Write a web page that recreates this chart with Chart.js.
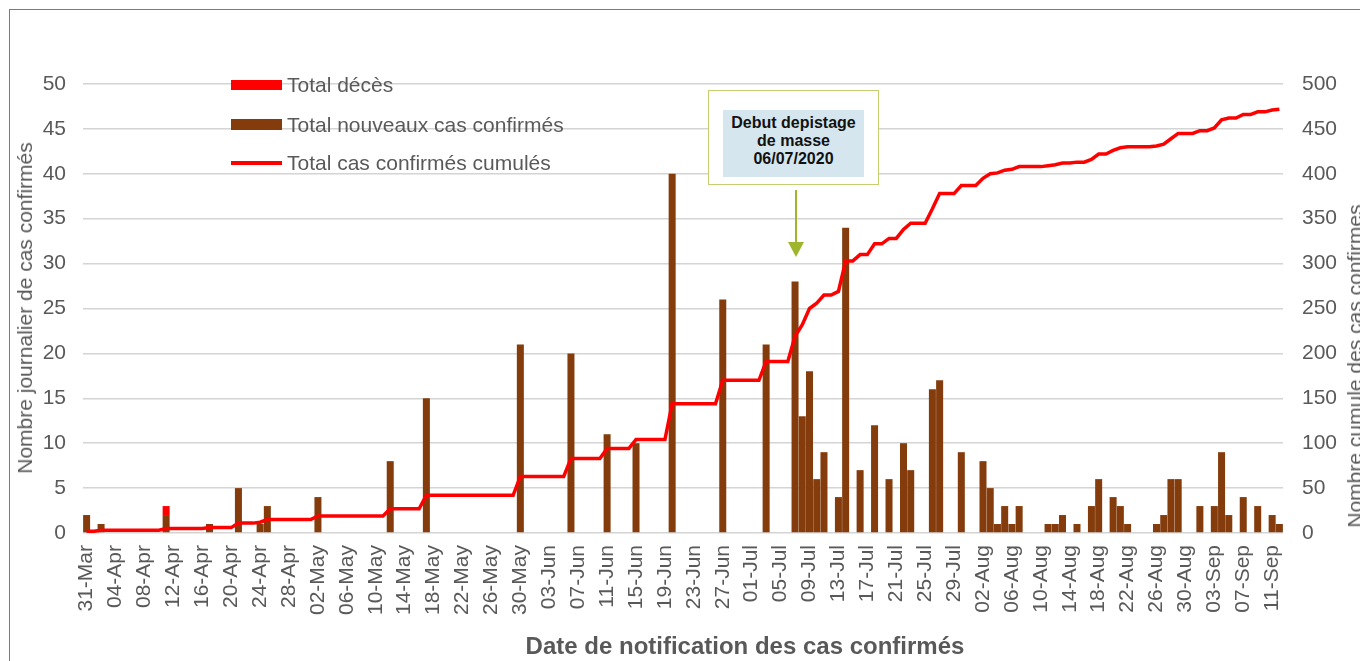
<!DOCTYPE html>
<html lang="fr">
<head>
<meta charset="utf-8">
<title>Cas confirmés</title>
<script src="https://cdn.jsdelivr.net/npm/chart.js@4.4.1/dist/chart.umd.min.js"></script>
<style>
  html, body { margin: 0; padding: 0; width: 1360px; height: 661px; overflow: hidden; background: #fff; }
  body { font-family: "Liberation Sans", Arial, sans-serif; }
  #wrap { position: relative; width: 1360px; height: 661px; overflow: hidden; }
  #frame { position: absolute; left: 9px; top: 9px; width: 1400px; height: 700px;
           border-top: 1px solid #4f7fd0; border-left: 1px solid #4f7fd0; }
  canvas { position: absolute; left: 0; top: 0; }
  .txt { position: absolute; color: #595959; white-space: nowrap; font-size: 21px; line-height: 24px; }
  .rot { transform: translate(-50%, -50%) rotate(-90deg); }
  .leg-box { position: absolute; left: 231px; width: 51px; }
  #annot { position: absolute; left: 708px; top: 90px; width: 169px; height: 93px;
           border: 1.5px solid #c3cf70; background: #fff; }
  #annot div { position: absolute; left: 14px; top: 19px; width: 141px; height: 67px; background: #d6e6ef;
               font-weight: bold; font-size: 16px; line-height: 18px; color: #111; text-align: center;
               padding-top: 4px; box-sizing: border-box; }
  #xtitle { font-weight: bold; font-size: 24px; }
</style>
</head>
<body>
<div id="wrap">
  <div id="frame"></div>
  <canvas id="chartCas" width="1360" height="661"></canvas>

  <!-- legende -->
  <div class="leg-box" style="top:80px;height:10px;background:#ff0000;"></div>
  <div class="txt" style="left:287px;top:73px;">Total décès</div>
  <div class="leg-box" style="top:119px;height:11px;background:#843c0c;"></div>
  <div class="txt" style="left:287px;top:113px;">Total nouveaux cas confirmés</div>
  <div class="leg-box" style="top:161px;height:3.5px;background:#ff0000;"></div>
  <div class="txt" style="left:287px;top:151px;">Total cas confirmés cumulés</div>

  <!-- titres des axes -->
  <div class="txt rot" style="left:25px;top:308px;">Nombre journalier de cas confirmés</div>
  <div class="txt rot" style="left:1355px;top:366px;">Nombre cumule des cas confirmes</div>
  <div class="txt" id="xtitle" style="left:745px;top:646px;transform:translate(-50%,-50%);">Date de notification des cas confirmés</div>

  <!-- annotation -->
  <div id="annot"><div>Debut depistage<br>de masse<br>06/07/2020</div></div>
  <svg style="position:absolute;left:780px;top:186px;" width="32" height="74">
    <line x1="16" y1="4" x2="16" y2="58" stroke="#9fb52b" stroke-width="2"/>
    <polygon points="8,56 24,56 16,71" fill="#9fb52b"/>
  </svg>
</div>

<script>
// Jours du 31-Mar au 12-Sep 2020
const premierJour = new Date(2020, 2, 31);
const nbJours = 166;
const moisAbr = ['Jan', 'Feb', 'Mar', 'Apr', 'May', 'Jun', 'Jul', 'Aug', 'Sep', 'Oct', 'Nov', 'Dec'];
const pasEtiquettes = 4;

// Nouveaux cas confirmés par jour
const nouveauxCas = [
  2, // 31-Mar
  // avril
  0, 1, 0, 0, 0, 0, 0, 0, 0, 0, 2, 0, 0, 0, 0, 0, 1, 0, 0, 0, 5, 0, 0, 1, 3, 0, 0, 0, 0, 0,
  // mai
  0, 4, 0, 0, 0, 0, 0, 0, 0, 0, 0, 8, 0, 0, 0, 0, 15, 0, 0, 0, 0, 0, 0, 0, 0, 0, 0, 0, 0, 21, 0,
  // juin
  0, 0, 0, 0, 0, 20, 0, 0, 0, 0, 11, 0, 0, 0, 10, 0, 0, 0, 0, 40, 0, 0, 0, 0, 0, 0, 26, 0, 0, 0,
  // juillet
  0, 0, 21, 0, 0, 0, 28, 13, 18, 6, 9, 0, 4, 34, 0, 7, 0, 12, 0, 6, 0, 10, 7, 0, 0, 16, 17, 0, 0, 9, 0,
  // aout
  0, 8, 5, 1, 3, 1, 3, 0, 0, 0, 1, 1, 2, 0, 1, 0, 3, 6, 0, 4, 3, 1, 0, 0, 0, 1, 2, 6, 6, 0, 0,
  // septembre
  3, 0, 3, 9, 2, 0, 4, 0, 3, 0, 2, 1
];

// Décès (seul jour visible)
const decesJours = ['11-Apr'];
const decesValeurs = [1];

// Cas confirmés cumulés (axe droit)
const casCumules = [
  2,
  2, 3, 3, 3, 3, 3, 3, 3, 3, 3, 5, 5, 5, 5, 5, 5, 6, 6, 6, 6, 11, 11, 11, 12, 15, 15, 15, 15, 15, 15,
  15, 19, 19, 19, 19, 19, 19, 19, 19, 19, 19, 27, 27, 27, 27, 27, 42, 42, 42, 42, 42, 42, 42, 42, 42, 42, 42, 42, 42, 63, 63,
  63, 63, 63, 63, 63, 83, 83, 83, 83, 83, 94, 94, 94, 94, 104, 104, 104, 104, 104, 144, 144, 144, 144, 144, 144, 144, 170, 170, 170, 170,
  170, 170, 191, 191, 191, 191, 219, 232, 250, 256, 265, 265, 269, 303, 303, 310, 310, 322, 322, 328, 328, 338, 345, 345, 345, 361, 378, 378, 378, 387, 387,
  387, 395, 400, 401, 404, 405, 408, 408, 408, 408, 409, 410, 412, 412, 413, 413, 416, 422, 422, 426, 429, 430, 430, 430, 430, 431, 433, 439, 445, 445, 445,
  448, 448, 451, 460, 462, 462, 466, 466, 469, 469, 471, 472
];

const categories = [];
for (let i = 0; i < nbJours; i++) {
  const d = new Date(premierJour.getFullYear(), premierJour.getMonth(), premierJour.getDate() + i);
  categories.push(String(d.getDate()).padStart(2, '0') + '-' + moisAbr[d.getMonth()]);
}
const deces = categories.map(c => {
  const k = decesJours.indexOf(c);
  return k >= 0 ? decesValeurs[k] : 0;
});

const gris = '#595959';
const police = { family: '"Liberation Sans", Arial, sans-serif', size: 21 };

const ctx = document.getElementById('chartCas').getContext('2d');
const chartCas = new Chart(ctx, {
  type: 'bar',
  data: {
    labels: categories,
    datasets: [
      {
        type: 'line',
        label: 'Total cas confirmés cumulés',
        data: casCumules,
        yAxisID: 'y1',
        borderColor: '#ff0000',
        borderWidth: 3.5,
        pointRadius: 0,
        tension: 0,
        order: 0
      },
      {
        label: 'Total nouveaux cas confirmés',
        data: nouveauxCas,
        backgroundColor: '#843c0c',
        yAxisID: 'y',
        barPercentage: 0.97,
        categoryPercentage: 1.0,
        order: 1
      },
      {
        label: 'Total décès',
        data: deces,
        backgroundColor: '#ff0000',
        yAxisID: 'y',
        barPercentage: 0.97,
        categoryPercentage: 1.0,
        order: 1
      }
    ]
  },
  options: {
    responsive: false,
    animation: false,
    devicePixelRatio: 1,
    layout: { padding: { top: 84, left: 0, right: 0, bottom: 0 } },
    plugins: {
      legend: { display: false },
      tooltip: { enabled: false }
    },
    scales: {
      x: {
        stacked: true,
        grid: { display: false, drawTicks: false },
        border: { display: false },
        ticks: {
          autoSkip: false,
          minRotation: 90,
          maxRotation: 90,
          padding: 12,
          color: gris,
          font: police,
          callback: (v, i) => (i % pasEtiquettes === 0 ? categories[i] : '')
        },
        afterFit: s => { s.height = 128; }
      },
      y: {
        stacked: true,
        position: 'left',
        min: 0,
        max: 50,
        ticks: { stepSize: 5, padding: 17, color: gris, font: police },
        grid: { color: '#d4d4d4', lineWidth: 1.5, drawTicks: false },
        border: { display: false },
        afterFit: s => { s.width = 83; }
      },
      y1: {
        position: 'right',
        min: 0,
        max: 500,
        ticks: { stepSize: 50, padding: 19, color: gris, font: police },
        grid: { drawOnChartArea: false, drawTicks: false },
        border: { display: false },
        afterFit: s => { s.width = 77; }
      }
    }
  }
});
</script>
</body>
</html>
